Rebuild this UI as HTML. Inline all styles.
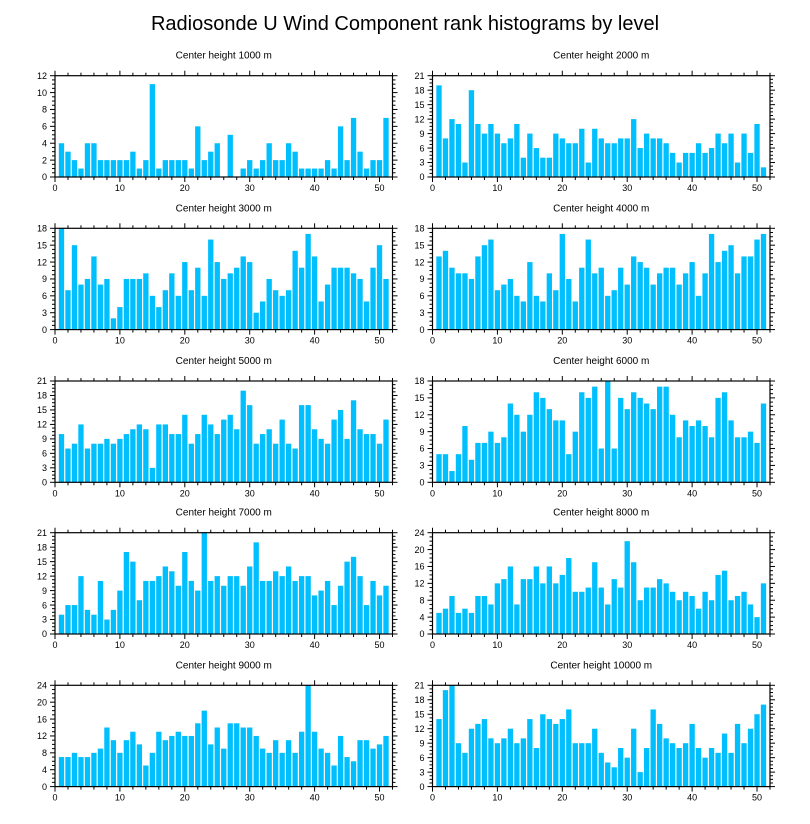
<!DOCTYPE html>
<html><head><meta charset="utf-8"><style>
body{margin:0;background:#fff;}
svg{display:block;font-family:"Liberation Sans",Arial,sans-serif;}
</style></head><body>
<svg id="s" width="810" height="824" xmlns="http://www.w3.org/2000/svg">
<rect width="810" height="824" fill="#fff"/>
<text x="405" y="30" font-size="20" text-anchor="middle">Radiosonde U Wind Component rank histograms by level</text>
</svg>
<script>
var P=[
["Center height 1000 m",12,2,[4,3,2,1,4,4,2,2,2,2,2,3,1,2,11,1,2,2,2,2,1,6,2,3,4,0,5,0,1,2,1,2,4,2,2,4,3,1,1,1,1,2,1,6,2,7,3,1,2,2,7]],
["Center height 2000 m",21,3,[19,8,12,11,3,18,11,9,11,9,7,8,11,4,9,6,4,4,9,8,7,7,10,3,10,8,7,7,8,8,12,6,9,8,8,7,5,3,5,5,7,5,6,9,7,9,3,9,5,11,2]],
["Center height 3000 m",18,3,[18,7,15,8,9,13,8,9,2,4,9,9,9,10,6,4,7,10,6,12,7,11,6,16,12,9,10,11,13,12,3,5,9,7,6,7,14,11,17,13,5,8,11,11,11,10,9,5,11,15,9]],
["Center height 4000 m",18,3,[13,14,11,10,10,9,13,15,16,7,8,9,6,5,12,6,5,10,7,17,9,5,11,16,10,11,6,7,11,8,13,12,11,8,10,11,11,8,10,12,6,10,17,12,14,15,10,13,13,16,17]],
["Center height 5000 m",21,3,[10,7,8,12,7,8,8,9,8,9,10,11,12,11,3,12,12,10,10,14,8,10,14,12,10,13,14,11,19,16,8,10,11,8,13,8,7,16,16,11,9,8,13,15,9,17,11,10,10,8,13]],
["Center height 6000 m",18,3,[5,5,2,5,10,4,7,7,9,7,8,14,12,9,12,16,15,13,11,11,5,9,16,15,17,6,18,6,15,13,16,15,14,13,17,17,12,8,11,10,11,10,8,15,16,11,8,8,9,7,14]],
["Center height 7000 m",21,3,[4,6,6,12,5,4,11,3,5,9,17,15,7,11,11,12,14,13,10,17,11,9,21,11,12,10,12,12,10,14,19,11,11,13,12,14,11,12,12,8,9,11,6,10,15,16,12,6,11,8,10]],
["Center height 8000 m",24,4,[5,6,9,5,6,5,9,9,7,12,13,16,7,13,13,16,12,16,12,14,18,10,10,11,17,11,7,13,11,22,17,8,11,11,13,12,10,8,10,9,6,10,8,14,15,8,9,10,7,4,12]],
["Center height 9000 m",24,4,[7,7,8,7,7,8,9,14,11,8,11,13,10,5,8,13,11,12,13,12,12,15,18,10,14,9,15,15,14,14,12,9,8,11,8,11,8,13,24,13,9,8,5,12,7,6,11,11,9,10,12]],
["Center height 10000 m",21,3,[14,20,21,9,7,12,13,14,10,9,10,12,9,10,14,8,15,14,13,14,16,9,9,9,12,7,5,4,8,6,12,3,8,16,13,10,9,8,9,13,8,6,8,7,11,7,13,9,12,15,17]]
];
var tops=[75.7,228.3,381,532.7,685.3],H=101.3,lefts=[55,432.5],W=337.5;
var o='';
function L(x1,y1,x2,y2,w){return '<line x1="'+x1+'" y1="'+y1+'" x2="'+x2+'" y2="'+y2+'" stroke="#000" stroke-width="'+(w||1)+'"/>';}
P.forEach(function(p,k){
 var x0=lefts[k%2],y0=tops[Math.floor(k/2)],ymax=p[1],st=p[2],d=p[3];
 var sx=W/52,sy=H/ymax,yb=y0+H;
 o+='<text x="'+(x0+W/2)+'" y="'+(y0-17)+'" font-size="10" text-anchor="middle">'+p[0]+'</text>';
 d.forEach(function(v,i){if(v>0){var c=i+1;o+='<rect x="'+(x0+(c-0.41)*sx)+'" y="'+(yb-v*sy)+'" width="'+(0.82*sx)+'" height="'+(v*sy)+'" fill="#00bfff"/>';}});
 o+='<rect x="'+x0+'" y="'+y0+'" width="'+W+'" height="'+H+'" fill="none" stroke="#000" stroke-width="1.2"/>';
 for(var t=0;t<=52;t+=2){var x=x0+t*sx,big=t%10==0,l=big?5:3;o+=L(x,yb,x,yb+l)+L(x,y0,x,y0-l);
  if(big)o+='<text x="'+x+'" y="'+(yb+14)+'" font-size="9" text-anchor="middle">'+t+'</text>';}
 var ms=st/4;
 for(var v=0;v<=ymax+1e-6;v+=ms){var y=yb-v*sy,big=Math.abs(v/st-Math.round(v/st))<1e-6,l=big?5:3;
  o+=L(x0-l,y,x0,y)+L(x0+W,y,x0+W+l,y);
  if(big)o+='<text x="'+(x0-8)+'" y="'+(y+3.2)+'" font-size="9" text-anchor="end">'+Math.round(v)+'</text>';}
});
document.getElementById('s').insertAdjacentHTML('beforeend',o);
</script>
</body></html>
